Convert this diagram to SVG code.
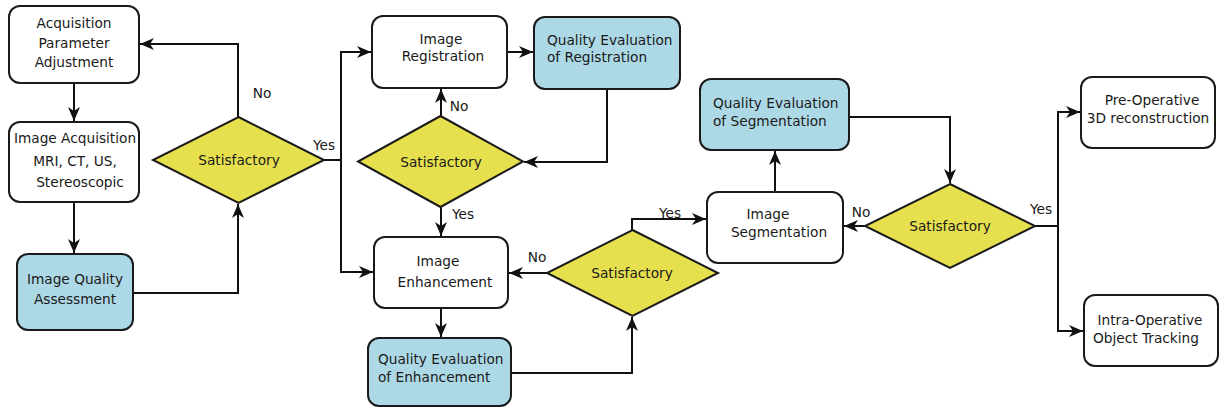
<svg xmlns="http://www.w3.org/2000/svg" width="1220" height="407" viewBox="0 0 1220 407">
  <style>
    .box { fill: #ffffff; stroke: #1a1a1a; stroke-width: 2; }
    .eval { fill: #add8e6; stroke: #1a1a1a; stroke-width: 2; }
    .dec { fill: #e6e04e; stroke: #1a1a1a; stroke-width: 2; stroke-linejoin: miter; }
    .wire { fill: none; stroke: #111111; stroke-width: 2; }
    text { font-family: "DejaVu Sans", "Liberation Sans", sans-serif; font-size: 13.7px; fill: #1a1a1a; }
    .c { text-anchor: middle; }
    .l { text-anchor: start; }
  </style>
  <defs>
    <marker id="arrow" viewBox="0 0 14 12" refX="14" refY="6" markerWidth="14" markerHeight="12" orient="auto" markerUnits="userSpaceOnUse">
      <path d="M0,0 L14,6 L0,12 L4,6 z" fill="#111111"/>
    </marker>
  </defs>

  <!-- connectors -->
  <g id="connectors">
    <path class="wire" d="M74,83 V121" marker-end="url(#arrow)"/>
    <path class="wire" d="M74,202 V253" marker-end="url(#arrow)"/>
    <path class="wire" d="M133,293 H238 V204" marker-end="url(#arrow)"/>
    <path class="wire" d="M238,117 V44 H140" marker-end="url(#arrow)"/>
    <path class="wire" d="M324,160 H341"/>
    <path class="wire" d="M341,272 V52 H371" marker-end="url(#arrow)"/>
    <path class="wire" d="M341,160 V272 H373" marker-end="url(#arrow)"/>
    <path class="wire" d="M507,52 H533" marker-end="url(#arrow)"/>
    <path class="wire" d="M607,89 V162 H524" marker-end="url(#arrow)"/>
    <path class="wire" d="M441,116 V89" marker-end="url(#arrow)"/>
    <path class="wire" d="M441,207 V236" marker-end="url(#arrow)"/>
    <path class="wire" d="M441,308 V337" marker-end="url(#arrow)"/>
    <path class="wire" d="M511,373 H632 V317" marker-end="url(#arrow)"/>
    <path class="wire" d="M547,273 H509" marker-end="url(#arrow)"/>
    <path class="wire" d="M632,230 V219 H706" marker-end="url(#arrow)"/>
    <path class="wire" d="M775,192 V151" marker-end="url(#arrow)"/>
    <path class="wire" d="M849,117 H950 V183" marker-end="url(#arrow)"/>
    <path class="wire" d="M865,226 H844" marker-end="url(#arrow)"/>
    <path class="wire" d="M1035,226 H1058"/>
    <path class="wire" d="M1058,226 V112 H1080" marker-end="url(#arrow)"/>
    <path class="wire" d="M1058,226 V331 H1083" marker-end="url(#arrow)"/>
    <text class="c" x="262" y="98">No</text>
    <text class="c" x="324" y="150">Yes</text>
    <text class="c" x="459" y="111">No</text>
    <text class="c" x="463" y="219">Yes</text>
    <text class="c" x="537" y="262">No</text>
    <text class="c" x="670" y="218">Yes</text>
    <text class="c" x="861" y="217">No</text>
    <text class="c" x="1041" y="214">Yes</text>
  </g>

  <g id="acq-param">
    <rect class="box" x="9" y="6" width="130" height="77" rx="11"/>
    <text class="c" x="74" y="28">Acquisition</text>
    <text class="c" x="74" y="48">Parameter</text>
    <text class="c" x="74" y="67">Adjustment</text>
  </g>
  <g id="image-acquisition">
    <rect class="box" x="9" y="122" width="130" height="80" rx="11"/>
    <text class="c" x="75" y="143">Image Acquisition</text>
    <text class="c" x="75" y="166">MRI, CT, US,</text>
    <text class="c" x="80" y="187">Stereoscopic</text>
  </g>
  <g id="image-quality">
    <rect class="eval" x="17" y="254" width="116" height="76" rx="11"/>
    <text class="c" x="75" y="283.5">Image Quality</text>
    <text class="c" x="75" y="303.5">Assessment</text>
  </g>
  <g id="decision-1">
    <polygon class="dec" points="238.5,117 324,160 238.5,203 153,160"/>
    <text class="c" x="239" y="165">Satisfactory</text>
  </g>
  <g id="image-registration">
    <rect class="box" x="372" y="16" width="135" height="72" rx="11"/>
    <text class="c" x="441" y="43.5">Image</text>
    <text class="c" x="443" y="60.5">Registration</text>
  </g>
  <g id="eval-registration">
    <rect class="eval" x="534" y="17" width="146" height="72" rx="11"/>
    <text class="l" x="547" y="44.5">Quality Evaluation</text>
    <text class="l" x="547" y="61.5">of Registration</text>
  </g>
  <g id="decision-2">
    <polygon class="dec" points="440.5,116 523,161.5 440.5,207 358,161.5"/>
    <text class="c" x="441" y="166.5">Satisfactory</text>
  </g>
  <g id="image-enhancement">
    <rect class="box" x="374" y="237" width="134" height="71" rx="11"/>
    <text class="c" x="438" y="265.5">Image</text>
    <text class="c" x="445" y="286.5">Enhancement</text>
  </g>
  <g id="eval-enhancement">
    <rect class="eval" x="368" y="338" width="143" height="68" rx="11"/>
    <text class="l" x="378" y="363.5">Quality Evaluation</text>
    <text class="l" x="378" y="381.5">of Enhancement</text>
  </g>
  <g id="decision-3">
    <polygon class="dec" points="632.5,230 718,273 632.5,316 547,273"/>
    <text class="c" x="632" y="277.5">Satisfactory</text>
  </g>
  <g id="image-segmentation">
    <rect class="box" x="707" y="192" width="136" height="71" rx="11"/>
    <text class="c" x="768" y="218.5">Image</text>
    <text class="c" x="779" y="236.5">Segmentation</text>
  </g>
  <g id="eval-segmentation">
    <rect class="eval" x="700" y="79" width="149" height="71" rx="11"/>
    <text class="l" x="713" y="107.5">Quality Evaluation</text>
    <text class="l" x="713" y="125.5">of Segmentation</text>
  </g>
  <g id="decision-4">
    <polygon class="dec" points="950,184 1035,226 950,268 865,226"/>
    <text class="c" x="950" y="230.5">Satisfactory</text>
  </g>
  <g id="pre-operative">
    <rect class="box" x="1081" y="77" width="134" height="71" rx="11"/>
    <text class="c" x="1152" y="104.5">Pre-Operative</text>
    <text class="c" x="1148" y="122.5">3D reconstruction</text>
  </g>
  <g id="intra-operative">
    <rect class="box" x="1084" y="295" width="134" height="71" rx="11"/>
    <text class="c" x="1150" y="324.5">Intra-Operative</text>
    <text class="c" x="1146" y="342.5">Object Tracking</text>
  </g>
</svg>
